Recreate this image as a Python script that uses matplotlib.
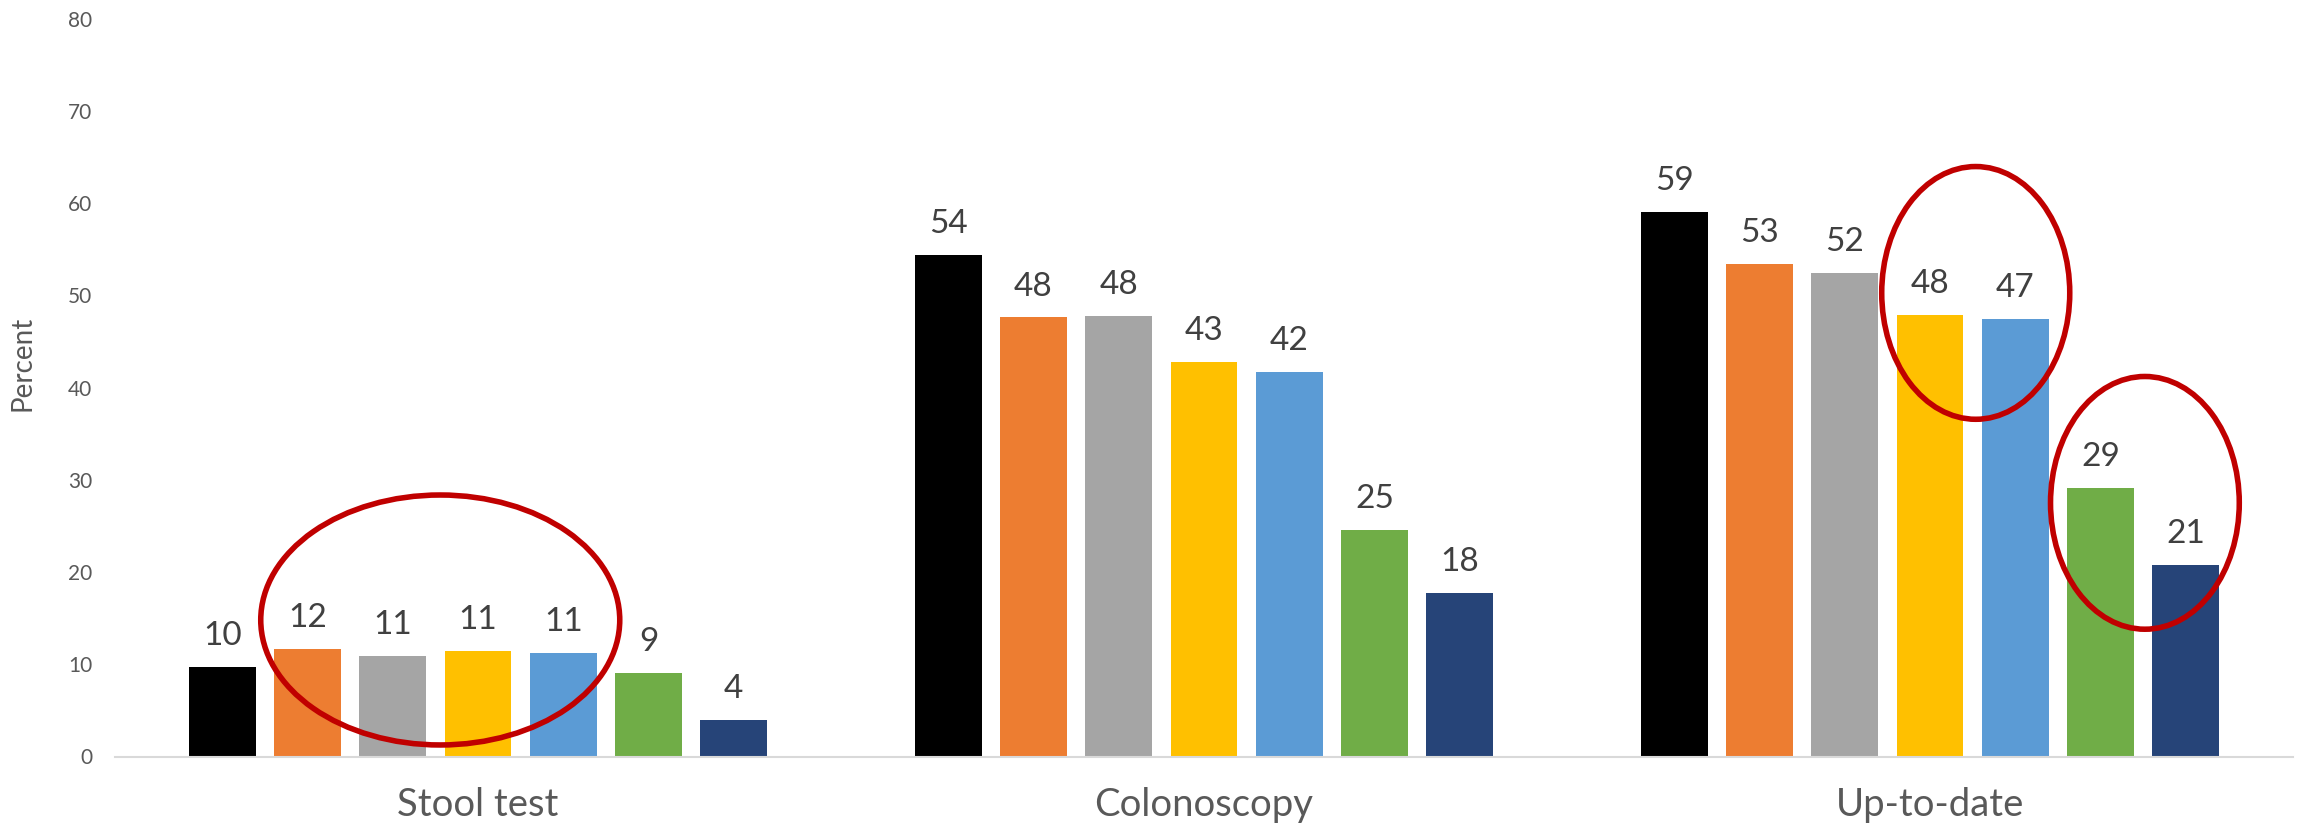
import matplotlib
matplotlib.use("Agg")
import matplotlib.pyplot as plt
from matplotlib.patches import Ellipse
import numpy as np

# Screening rates (percent) by group, seven subgroups per test type
categories = ["Stool test", "Colonoscopy", "Up-to-date"]
stool_test = [9.7, 11.7, 10.9, 11.4, 11.2, 9.1, 4.0]
colonoscopy = [54.4, 47.6, 47.8, 42.8, 41.7, 24.6, 17.7]
up_to_date = [59.0, 53.4, 52.4, 47.9, 47.4, 29.1, 20.8]
y_ticks = [0, 10, 20, 30, 40, 50, 60, 70, 80]

colors = ["#000000", "#ED7D31", "#A5A5A5", "#FFC000", "#5B9BD5", "#70AD47", "#264478"]

values = np.array([stool_test, colonoscopy, up_to_date])  # shape (groups, subgroups)
n_groups, n_sub = values.shape

DPI = 100
fig = plt.figure(figsize=(23.0, 8.35), dpi=DPI)
ax = fig.add_axes([115 / 2300, 1 - 756.5 / 835, (2293 - 115) / 2300, (756.5 - 18.6) / 835])

pitch = 0.1174
width = 0.092
x = np.arange(n_groups)
offsets = (np.arange(n_sub) - (n_sub - 1) / 2) * pitch

family = ["Lato", "DejaVu Sans"]
for j in range(n_sub):
    xs = x + offsets[j]
    ax.bar(xs, values[:, j], width=width, color=colors[j], zorder=2)
    for xi, v in zip(xs, values[:, j]):
        ax.annotate(f"{v:.0f}", xy=(xi, v), xytext=(0, 15.8), textcoords="offset points",
                    ha="center", va="baseline", family=family, fontsize=24, color="#404040")

ax.set_xlim(-0.5, 2.5)
ax.set_ylim(0, 80)
ax.set_yticks(y_ticks)
ax.set_yticklabels([str(t) for t in y_ticks], family=family, fontsize=15, color="#595959")
ax.set_xticks(x)
ax.set_xticklabels(categories, family=family, fontsize=27.5, color="#595959")
ax.tick_params(axis="y", length=0, pad=16.5)
ax.tick_params(axis="x", length=0, pad=22)

for side in ("top", "right", "left"):
    ax.spines[side].set_visible(False)
ax.spines["bottom"].set_color("#D9D9D9")
ax.spines["bottom"].set_linewidth(1.5)

fig.text(22.5 / 2300, 1 - 363 / 835, "Percent", rotation=90, ha="center", va="center",
         family=family, fontsize=20, color="#595959")

# Red highlight rings around the subgroups of interest
red = "#C00000"
for cx, cy, w, h in [(-0.052, 14.8, 0.4945, 27.1),
                     (2.063, 50.26, 0.259, 27.4),
                     (2.296, 27.5, 0.26, 27.4)]:
    ax.add_patch(Ellipse((cx, cy), w, h, fill=False, edgecolor=red, linewidth=4, zorder=4,
                         clip_on=False))

fig.savefig("out.png", dpi=DPI, facecolor="white")
